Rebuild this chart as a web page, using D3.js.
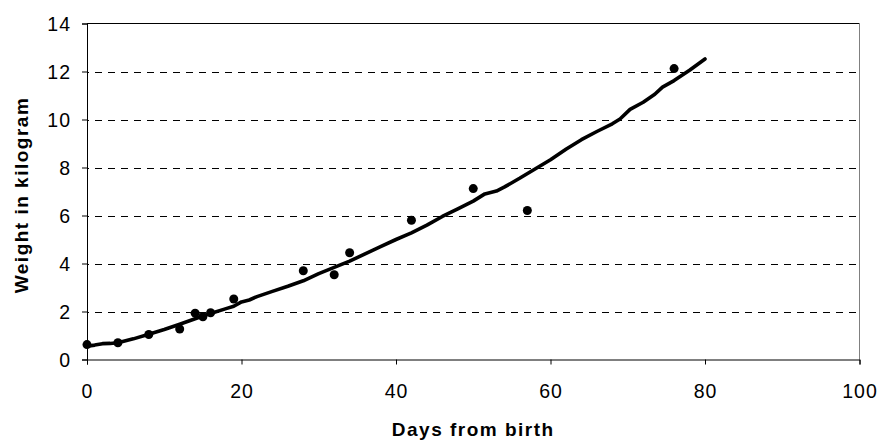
<!DOCTYPE html>
<html>
<head>
<meta charset="utf-8">
<script src="https://cdn.jsdelivr.net/npm/d3@7"></script>
<style>
html,body{margin:0;padding:0;background:#fff;}
svg{display:block;}
text{font-family:"Liberation Sans",Arial,sans-serif;fill:#000;}
</style>
</head>
<body>
<svg id="chart" width="879" height="442"></svg>
<script>
// Observed data points
const obsDays    = [0, 4, 8, 12, 14, 15, 16, 19, 28, 32, 34, 42, 50, 57, 76];
const obsWeights = [0.62, 0.70, 1.04, 1.27, 1.93, 1.78, 1.95, 2.52, 3.70, 3.53, 4.45, 5.80, 7.12, 6.21, 12.12];

// Fitted growth curve
const curveDays    = [0, 1, 2, 3, 4, 6, 8, 10, 12, 14, 16, 18, 19, 20, 21, 22, 24, 26, 28, 30, 32, 34, 36, 38, 40, 42, 44, 46, 48, 50, 51.5, 53, 54, 56, 58, 60, 62, 64, 66, 68, 69, 70.3, 72, 73.5, 74.5, 76, 78, 80];
const curveWeights = [0.55, 0.60, 0.66, 0.67, 0.70, 0.86, 1.05, 1.25, 1.47, 1.70, 1.92, 2.12, 2.22, 2.40, 2.48, 2.62, 2.84, 3.05, 3.28, 3.58, 3.84, 4.10, 4.40, 4.70, 5.00, 5.28, 5.60, 5.96, 6.28, 6.60, 6.90, 7.02, 7.18, 7.55, 7.94, 8.32, 8.76, 9.16, 9.50, 9.82, 10.02, 10.42, 10.72, 11.05, 11.35, 11.62, 12.05, 12.52];

const xTicks = [0, 20, 40, 60, 80, 100];
const yTicks = [0, 2, 4, 6, 8, 10, 12, 14];
const xTitle = "Days from birth";
const yTitle = "Weight in kilogram";

const svg = d3.select("#chart");
const L = 87, R = 859.5, T = 23.5, B = 359.5;

const x = d3.scaleLinear().domain([0, 100]).range([L, R]);
const y = d3.scaleLinear().domain([0, 14]).range([B, T]);

// Gridlines (dashed)
svg.append("g").selectAll("line")
  .data(yTicks.filter(d => d > 0 && d < 14))
  .join("line")
  .attr("x1", L).attr("x2", R)
  .attr("y1", d => Math.round(y(d)) + 0.5).attr("y2", d => Math.round(y(d)) + 0.5)
  .attr("stroke", "#000").attr("stroke-width", 1)
  .attr("stroke-dasharray", "7,6").attr("stroke-dashoffset", -8);

// Top border and right border
svg.append("line").attr("x1", L).attr("x2", R).attr("y1", T).attr("y2", T)
  .attr("stroke", "#000").attr("stroke-width", 1);
svg.append("line").attr("x1", R).attr("x2", R).attr("y1", T).attr("y2", B)
  .attr("stroke", "#808080").attr("stroke-width", 1);

// X axis
const xAxis = d3.axisBottom(x).tickValues(xTicks).tickSize(5).tickPadding(8).tickFormat(d3.format("d"));
const gx = svg.append("g").attr("transform", `translate(0,${B})`).call(xAxis);
gx.select(".domain").attr("stroke", "#000");
gx.selectAll(".tick line").attr("stroke", "#000");
gx.selectAll(".tick text").attr("font-size", "19.5px").attr("dy", null).attr("y", 38.5)
  .style("letter-spacing", "1px");

// Y axis
const yAxis = d3.axisLeft(y).tickValues(yTicks).tickSize(5).tickPadding(0).tickFormat(d3.format("d"));
const gy = svg.append("g").attr("transform", `translate(${L},0)`).call(yAxis);
gy.select(".domain").attr("stroke", "#000");
gy.selectAll(".tick line").attr("stroke", "#000");
gy.selectAll(".tick text").attr("font-size", "19.5px").attr("x", -16).attr("dy", "0.35em")
  .style("letter-spacing", "1px");

// Curve
const line = d3.line().x(d => x(d[0])).y(d => y(d[1]));
svg.append("path")
  .datum(curveDays.map((d, i) => [d, curveWeights[i]]))
  .attr("d", line)
  .attr("fill", "none").attr("stroke", "#000").attr("stroke-width", 3.6)
  .attr("stroke-linejoin", "round").attr("stroke-linecap", "round");

// Points
svg.append("g").selectAll("circle")
  .data(obsDays.map((d, i) => [d, obsWeights[i]]))
  .join("circle")
  .attr("cx", d => x(d[0])).attr("cy", d => y(d[1])).attr("r", 4.5)
  .attr("fill", "#000");

// Titles
svg.append("text").attr("x", (L + R) / 2).attr("y", 436)
  .attr("text-anchor", "middle").attr("font-size", "19px").attr("font-weight", "bold")
  .style("letter-spacing", "1.5px").text(xTitle);
svg.append("text").attr("transform", `translate(28,${195}) rotate(-90)`)
  .attr("text-anchor", "middle").attr("font-size", "19px").attr("font-weight", "bold")
  .style("letter-spacing", "1.5px").text(yTitle);
</script>
</body>
</html>
